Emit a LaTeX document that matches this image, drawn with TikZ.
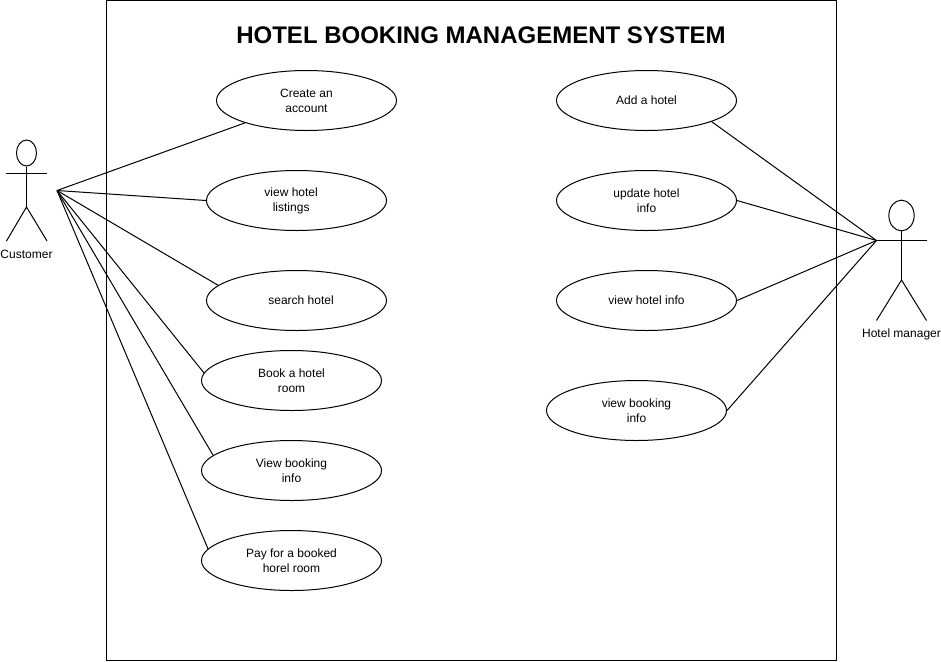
\documentclass[tikz,border=0pt]{standalone}
\usepackage{fontspec}
\setmainfont{Liberation Sans}
\usetikzlibrary{positioning, shapes.geometric}

\tikzset{
    usecase/.style={draw, ellipse, line width=0.75pt, minimum width=135pt, minimum height=45pt, inner sep=0pt, align=center, font=\fontsize{9}{11.25}\selectfont},
    casetext/.style={align=center, inner sep=0pt, font=\fontsize{9}{11.25}\selectfont},
    actorlabel/.style={font=\fontsize{9}{11.25}\selectfont, inner sep=0pt},
    line/.style={line width=0.75pt}
}

\begin{document}
\begin{tikzpicture}[x=0.75pt, y=-0.75pt]
    \useasboundingbox (0,0) rectangle (941,661);
    \node (System) [draw, line width=0.75pt, minimum width=547.5pt, minimum height=495pt, inner sep=0pt] at (471.5,330.5) {};
    \node (Title) [font=\bfseries\fontsize{18}{22}\selectfont, inner sep=0pt] at (481,35) {HOTEL BOOKING MANAGEMENT SYSTEM};

    % use cases of the customer
    \node (Create) [usecase] at (306.5,100.5) {Create an\\account};
    \node (Listings) [usecase, label={[casetext, xshift=-4pt]center:{view hotel\\listings}}] at (296.5,200.5) {};
    \node (Search) [usecase, label={[casetext, xshift=3.4pt]center:search hotel}] at (296.5,300.5) {};
    \node (Book) [usecase] at (291.5,380.5) {Book a hotel\\room};
    \node (Booking) [usecase] at (291.5,470.5) {View booking\\info};
    \node (Pay) [usecase] at (291.5,560.5) {Pay for a booked\\horel room};

    % use cases of the manager
    \node (Add) [usecase] at (646.5,100.5) {Add a hotel};
    \node (Update) [usecase] at (646.5,200.5) {update hotel\\info};
    \node (Info) [usecase] at (646.5,300.5) {view hotel info};
    \node (ManBooking) [usecase] at (636.5,410.5) {view booking\\info};

    % customer
    \node (CustHead) [draw, ellipse, line width=0.75pt, minimum width=15pt, minimum height=19.5pt, inner sep=0pt] at (26.5,153) {};
    \coordinate (CustHip) at (26.5,207);
    \coordinate (CustArmL) at (6,173.5);
    \coordinate (CustArmR) at (47,173.5);
    \coordinate (CustFootL) at (6.5,241);
    \coordinate (CustFootR) at (47,241);
    \coordinate (CustPort) at (57,190.5);
    \draw [line] (CustHead.south) -- (CustHip);
    \draw [line] (CustArmL) -- (CustArmR);
    \draw [line] (CustFootL) -- (CustHip) -- (CustFootR);
    \node (Customer) [actorlabel] at (26.5,254) {Customer};

    % manager
    \node (ManHead) [draw, ellipse, line width=0.75pt, minimum width=19pt, minimum height=23pt, inner sep=0pt] at (901.5,215.5) {};
    \coordinate (ManHip) at (901.5,280);
    \coordinate (ManArmL) at (876.5,240.5);
    \coordinate (ManArmR) at (926.5,240.5);
    \coordinate (ManFootL) at (876.5,320.5);
    \coordinate (ManFootR) at (926.5,320.5);
    \draw [line] (ManHead.south) -- (ManHip);
    \draw [line] (ManArmL) -- (ManArmR);
    \draw [line] (ManFootL) -- (ManHip) -- (ManFootR);
    \node (Manager) [actorlabel] at (901.5,334) {Hotel manager};

    \draw [line] (CustPort) -- (Create.200);
    \draw [line] (CustPort) -- (Listings.west);
    \draw [line] (CustPort) -- (Search.169.5);
    \draw [line] (CustPort) -- (Book.175);
    \draw [line] (CustPort) -- (Booking.169.7);
    \draw [line] (CustPort) -- (Pay.172.3);

    \draw [line] (Add.-18.4) -- (ManArmL);
    \draw [line] (Update.east) -- (ManArmL);
    \draw [line] (Info.east) -- (ManArmL);
    \draw [line] (ManBooking.east) -- (ManArmL);
\end{tikzpicture}
\end{document}
